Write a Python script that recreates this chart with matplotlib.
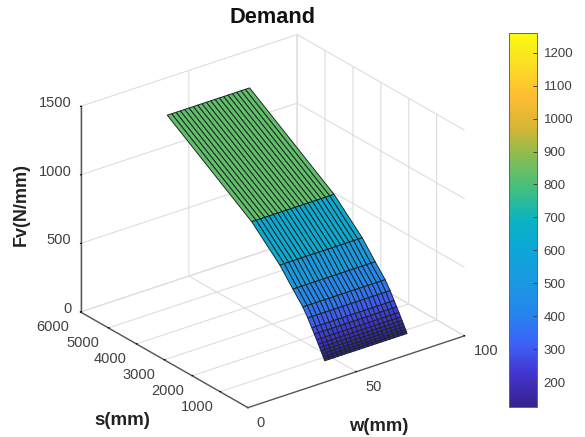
import matplotlib
matplotlib.use('Agg')
import matplotlib.pyplot as plt
import numpy as np
from matplotlib.colors import LinearSegmentedColormap, Normalize
from matplotlib.cm import ScalarMappable
from mpl_toolkits.mplot3d import proj3d

plt.rcParams['font.family'] = ['Liberation Sans', 'DejaVu Sans']

# values
w_edges = np.linspace(38, 76, 20)
s_edges = [196, 223, 254, 291, 332, 377, 427, 489, 570, 661, 804, 982, 1339, 1804, 2814, 5840]
z_edges = [120, 131, 144, 159, 176, 194, 214, 239, 271, 306, 362, 421, 510, 631, 830, 1255]
s_ticks = [1000, 2000, 3000, 4000, 5000, 6000]
w_ticks = [0, 50, 100]
z_ticks = [0, 500, 1000, 1500]
bar_ticks = list(range(200, 1300, 100))
clim = (125, 1260)

parula = LinearSegmentedColormap.from_list('parula', [
    (0.21, 0.13, 0.56), (0.26, 0.20, 0.80), (0.24, 0.38, 0.97), (0.15, 0.52, 0.93),
    (0.10, 0.60, 0.88), (0.05, 0.65, 0.85), (0.04, 0.70, 0.76), (0.26, 0.75, 0.50),
    (0.52, 0.74, 0.32), (0.85, 0.71, 0.20), (1.00, 0.74, 0.20), (0.98, 0.87, 0.14),
    (0.98, 0.98, 0.06)])
norm = Normalize(*clim)

fig = plt.figure(figsize=(5.85, 4.37), dpi=100)
ax = fig.add_axes([18 / 585, -8.5 / 437, 0.85, 1.0], projection='3d', proj_type='ortho')
ax.view_init(elev=25.8, azim=-127.3)
ax.set_box_aspect((273, 277, 229), zoom=1.0)
ax.patch.set_alpha(0)

W, S = np.meshgrid(w_edges, s_edges)
Z = np.tile(np.array(z_edges, dtype=float).reshape(-1, 1), (1, len(w_edges)))
colors = parula(norm(Z[:-1, :-1]))
ax.plot_surface(W, S, Z, rstride=1, cstride=1, facecolors=colors, shade=False,
                edgecolor=(0.1, 0.15, 0.15), linewidth=0.7, antialiased=True)

ax.set_xlim(0, 100, view_margin=0)
ax.set_ylim(0, 6000, view_margin=0)
ax.set_zlim(0, 1500, view_margin=0)
ax.set_xticks(w_ticks)
ax.set_yticks(s_ticks)
ax.set_zticks(z_ticks)
ax.set_xticklabels([])
ax.set_yticklabels([])
ax.set_zticklabels([])

for axis in (ax.xaxis, ax.yaxis, ax.zaxis):
    axis.set_pane_color((1, 1, 1, 0))
    axis.pane.set_edgecolor((1, 1, 1, 0))
    axis.line.set_color('#555555')
    axis.line.set_linewidth(1.0)
    axis._axinfo['grid'].update(color='#dddddd', linewidth=0.8)
    axis._axinfo['tick'].update(inward_factor=0.0, outward_factor=0.04)

# tick labels at the projected tick, mplot3d will not put them where matlab has them
M = ax.get_proj()
def tick_label(x, y, z, text, dx, dy, ha):
    px, py, _ = proj3d.proj_transform(x, y, z, M)
    ax.annotate(text, (px, py), xytext=(dx, dy), textcoords='offset pixels', ha=ha, va='center',
                fontsize=10.5, color='#404040', annotation_clip=False)

for w, dx in zip(w_ticks, [13, 17, 22]):
    tick_label(w, 0, 0, str(w), dx, -15, 'center')
for s, dx in zip(s_ticks, [-23, -24, -25, -26, -26, -28]):
    tick_label(0, s, 0, str(s), dx, -15.5, 'center')
for z in z_ticks:
    tick_label(0, 6000, z, str(z), -9, 3, 'right')

fig.text(0.465, 0.961, 'Demand', fontsize=15.7, fontweight='bold', ha='center', va='center', color='#111111')
fig.text(0.036, 0.531, 'Fv(N/mm)', fontsize=13, fontweight='bold', rotation=90, ha='center', va='center', color='#222222')
fig.text(0.209, 0.037, 's(mm)', fontsize=13.5, fontweight='bold', ha='center', va='center', color='#222222')
fig.text(0.648, 0.025, 'w(mm)', fontsize=13.3, fontweight='bold', ha='center', va='center', color='#222222')

cax = fig.add_axes([508.7 / 585, 1 - 406.7 / 437, 28 / 585, 373.7 / 437])
cb = fig.colorbar(ScalarMappable(norm=norm, cmap=parula), cax=cax, ticks=bar_ticks)
cb.ax.tick_params(direction='in', length=3, width=0.7, labelsize=9.5, labelcolor='#404040', color='#404040', pad=5)
cb.outline.set_edgecolor('#666666')
cb.outline.set_linewidth(0.7)

fig.savefig('out.png', dpi=100)
